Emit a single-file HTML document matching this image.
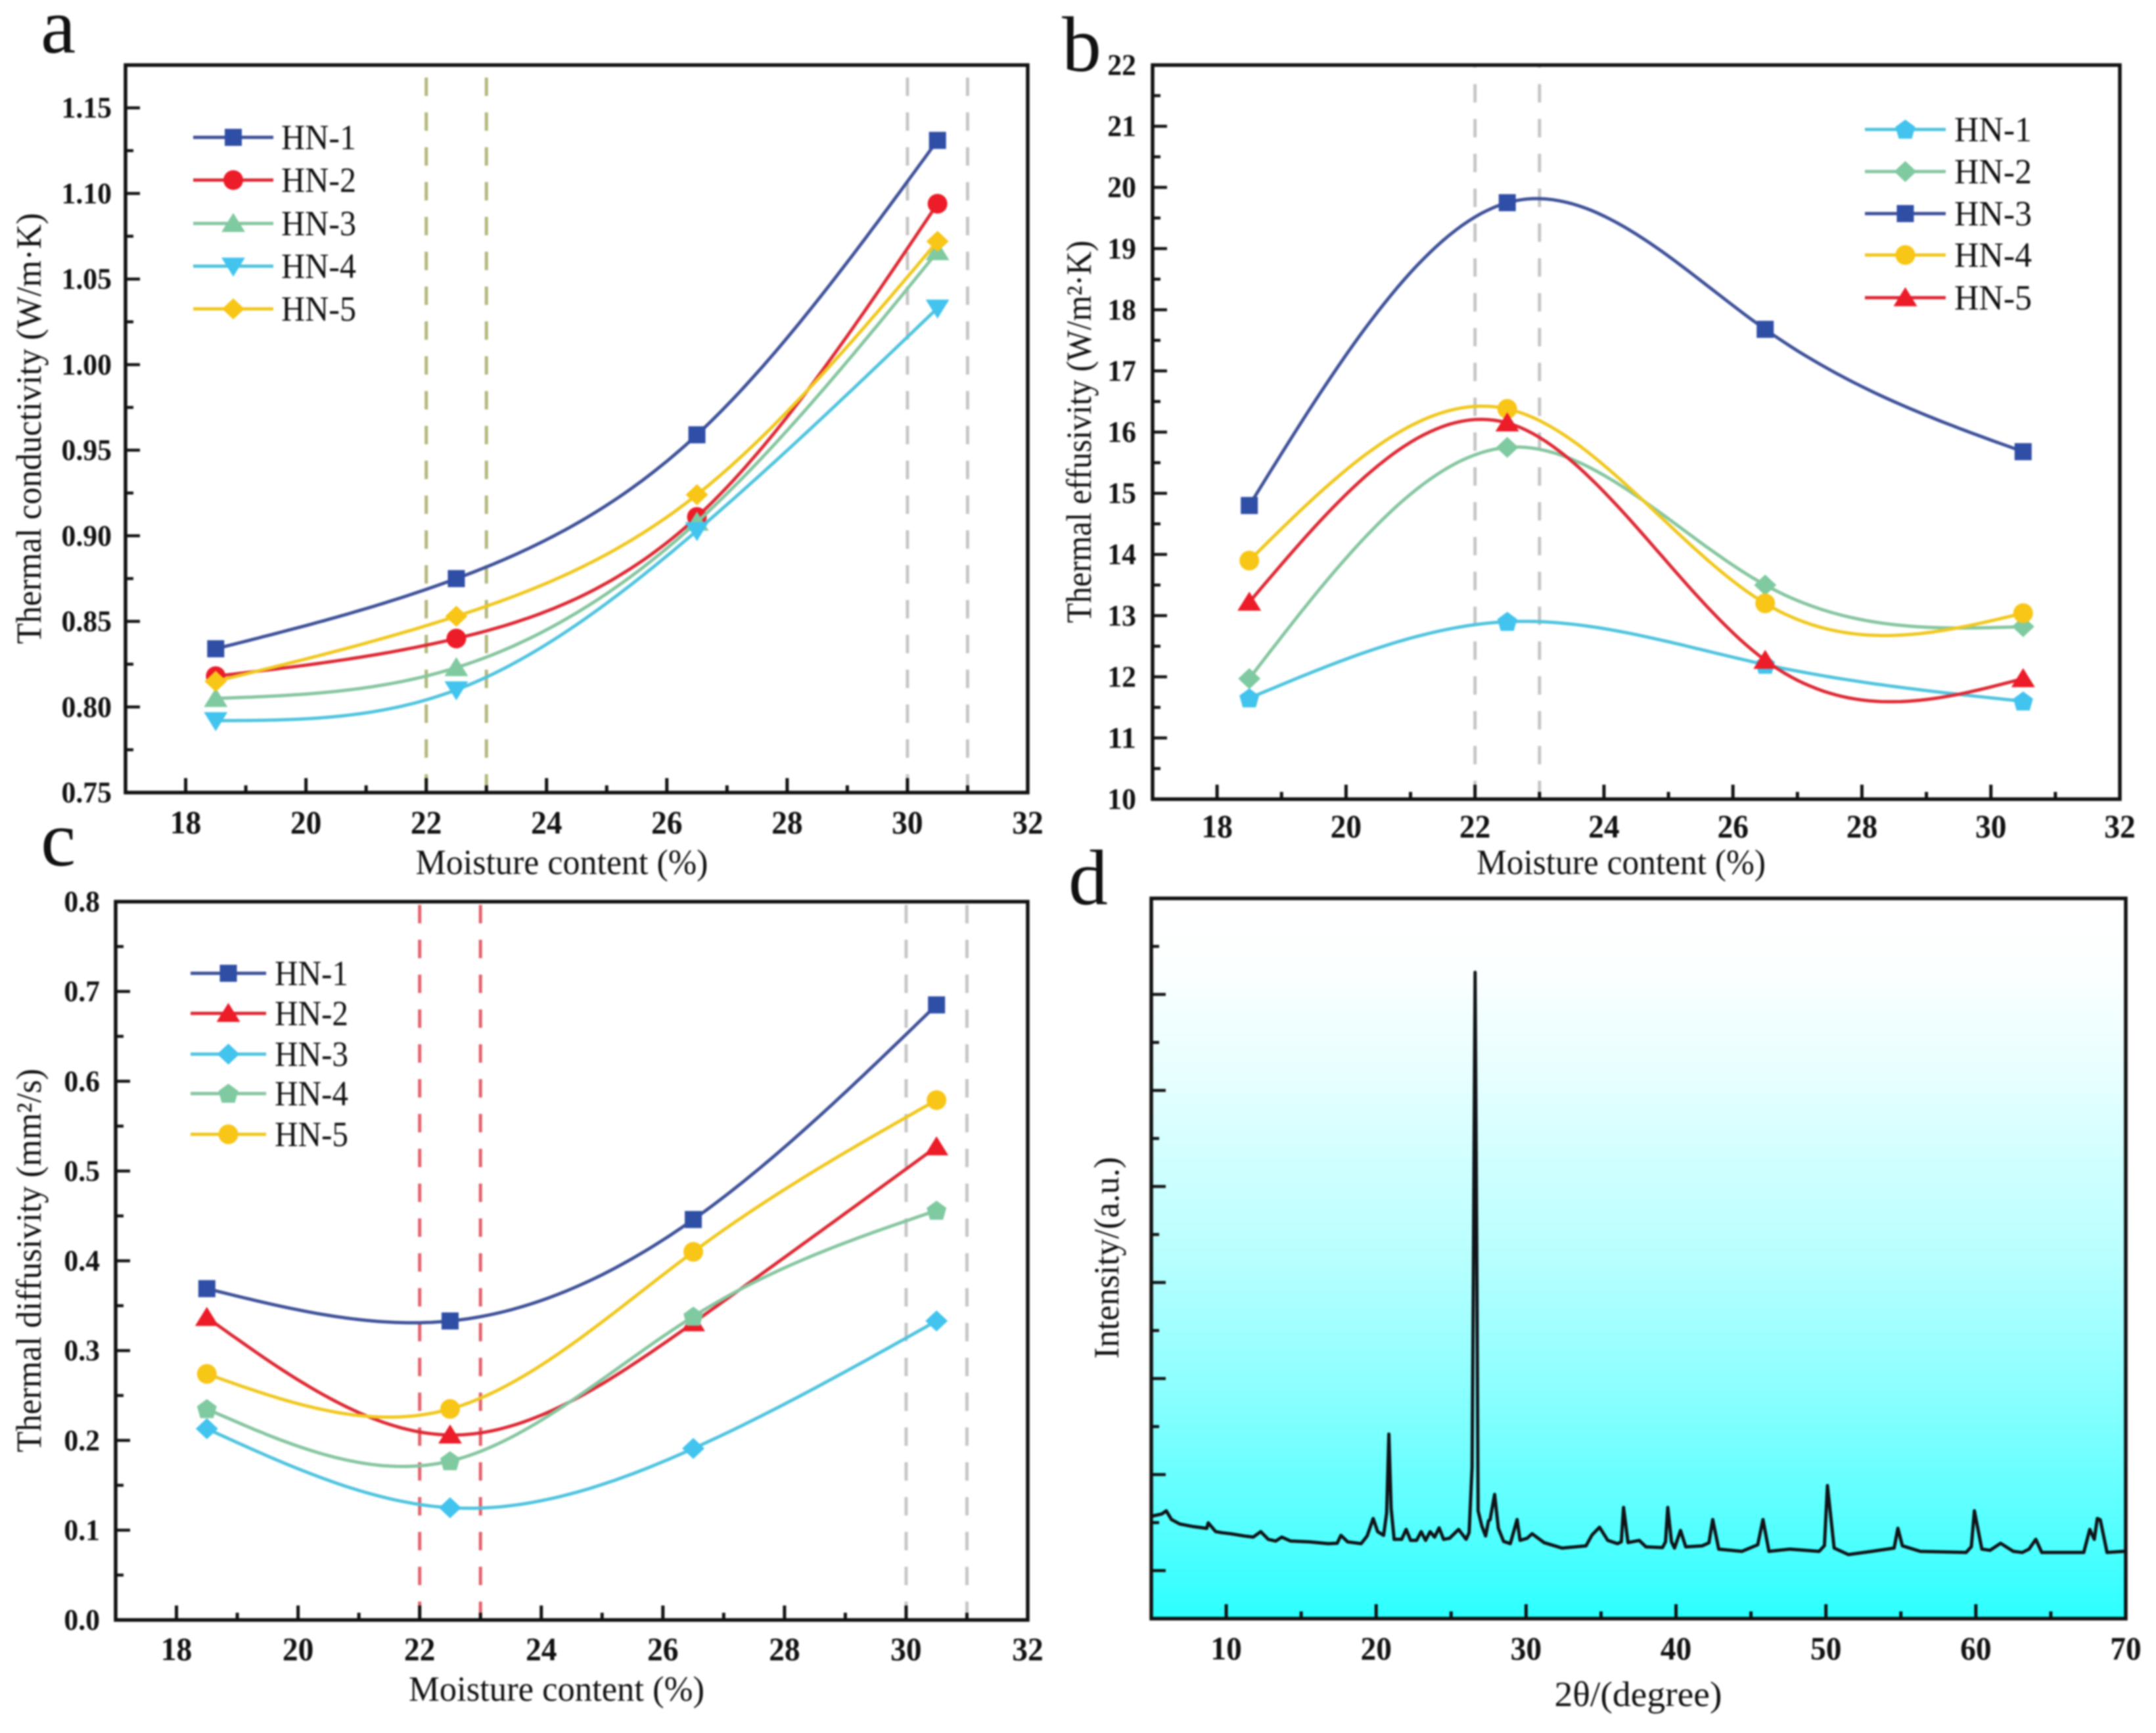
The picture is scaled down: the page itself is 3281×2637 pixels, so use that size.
<!DOCTYPE html>
<html lang="en">
<head>
<meta charset="utf-8">
<title>Thermal properties vs moisture content and XRD pattern</title>
<style>
html,body{margin:0;padding:0;background:#fff;}
svg{display:block;filter:blur(1.3px);}
text{font-family:"Liberation Serif",serif;fill:#111;}
</style>
</head>
<body>
<svg id="fig" xmlns="http://www.w3.org/2000/svg" width="3281" height="2637" viewBox="0 0 3281 2637">
  <defs>
    <linearGradient id="xrdBg" x1="0" y1="0" x2="0" y2="1">
      <stop offset="0" stop-color="#ffffff"/>
      <stop offset="0.1" stop-color="#fcffff"/>
      <stop offset="0.25" stop-color="#e6ffff"/>
      <stop offset="0.5" stop-color="#b8ffff"/>
      <stop offset="0.67" stop-color="#8fffff"/>
      <stop offset="0.85" stop-color="#5cffff"/>
      <stop offset="1" stop-color="#2dffff"/>
    </linearGradient>
    <clipPath id="clipD"><rect x="1752" y="1367" width="1483" height="1096"/></clipPath>
  </defs>
  <rect width="3281" height="2637" fill="#fff"/>

  <text x="62" y="80" font-size="120">a</text>
  <text x="1616" y="108" font-size="120">b</text>
  <text x="62" y="1317" font-size="120">c</text>
  <text x="1626" y="1376" font-size="120">d</text>

  <text x="855" y="1330" font-size="54" text-anchor="middle" textLength="445" lengthAdjust="spacingAndGlyphs">Moisture content (%)</text>
  <text x="2467" y="1330" font-size="54" text-anchor="middle" textLength="440" lengthAdjust="spacingAndGlyphs">Moisture content (%)</text>
  <text x="847" y="2588" font-size="54" text-anchor="middle" textLength="450" lengthAdjust="spacingAndGlyphs">Moisture content (%)</text>
  <text x="2493" y="2596" font-size="54" text-anchor="middle" textLength="255" lengthAdjust="spacingAndGlyphs">2θ/(degree)</text>

  <text transform="translate(62,652) rotate(-90)" font-size="54" text-anchor="middle" textLength="656" lengthAdjust="spacingAndGlyphs">Thermal conductivity (W/m·K)</text>
  <text transform="translate(1660,657) rotate(-90)" font-size="54" text-anchor="middle" textLength="582" lengthAdjust="spacingAndGlyphs">Thermal effusivity (W/m²·K)</text>
  <text transform="translate(62,1918) rotate(-90)" font-size="54" text-anchor="middle" textLength="584" lengthAdjust="spacingAndGlyphs">Thermal diffusivity (mm²/s)</text>
  <text transform="translate(1702,1914) rotate(-90)" font-size="54" text-anchor="middle" textLength="307" lengthAdjust="spacingAndGlyphs">Intensity/(a.u.)</text>
</svg>

<script>
/* ---------- shared data ---------- */
const moistureLevels = [18.5, 22.5, 26.5, 30.5];
const moistureTicks = [18, 20, 22, 24, 26, 28, 30, 32];
const moistureTickLabels = ['18', '20', '22', '24', '26', '28', '30', '32'];
const moistureMinorTicks = [19, 21, 23, 25, 27, 29, 31];

/* ---------- panel a: thermal conductivity ---------- */
const condHN1 = [0.834, 0.875, 0.959, 1.131];
const condHN2 = [0.818, 0.840, 0.911, 1.094];
const condHN3 = [0.805, 0.823, 0.908, 1.066];
const condHN4 = [0.792, 0.810, 0.903, 1.033];
const condHN5 = [0.815, 0.853, 0.924, 1.072];
const condTicks = [0.75, 0.80, 0.85, 0.90, 0.95, 1.00, 1.05, 1.10, 1.15];
const condTickLabels = ['0.75', '0.80', '0.85', '0.90', '0.95', '1.00', '1.05', '1.10', '1.15'];
const condMinorTicks = [0.775, 0.825, 0.875, 0.925, 0.975, 1.025, 1.075, 1.125];

/* ---------- panel b: thermal effusivity ---------- */
const effuHN1 = [11.65, 12.90, 12.20, 11.60];
const effuHN2 = [11.97, 15.75, 13.50, 12.82];
const effuHN3 = [14.80, 19.75, 17.68, 15.68];
const effuHN4 = [13.90, 16.38, 13.20, 13.04];
const effuHN5 = [13.22, 16.15, 12.27, 11.97];
const effuTicks = [10, 11, 12, 13, 14, 15, 16, 17, 18, 19, 20, 21, 22];
const effuTickLabels = ['10', '11', '12', '13', '14', '15', '16', '17', '18', '19', '20', '21', '22'];
const effuMinorTicks = [10.5, 11.5, 12.5, 13.5, 14.5, 15.5, 16.5, 17.5, 18.5, 19.5, 20.5, 21.5];

/* ---------- panel c: thermal diffusivity ---------- */
const diffHN1 = [0.369, 0.333, 0.446, 0.685];
const diffHN2 = [0.337, 0.206, 0.331, 0.527];
const diffHN3 = [0.213, 0.125, 0.191, 0.333];
const diffHN4 = [0.235, 0.177, 0.338, 0.456];
const diffHN5 = [0.274, 0.235, 0.410, 0.579];
const diffTicks = [0, 0.1, 0.2, 0.3, 0.4, 0.5, 0.6, 0.7, 0.8];
const diffTickLabels = ['0.0', '0.1', '0.2', '0.3', '0.4', '0.5', '0.6', '0.7', '0.8'];
const diffMinorTicks = [0.05, 0.15, 0.25, 0.35, 0.45, 0.55, 0.65, 0.75];

/* ---------- panel d: XRD pattern ---------- */
const xrdAngles = [5, 5.35, 5.7, 6, 6.35, 6.9, 7.8, 8.7, 8.8, 9.3, 9.7, 10.3, 11.2, 11.8, 12.3, 12.8, 13.3, 13.7, 14.3, 15.6, 16.8, 17.4, 17.65, 18.1, 19, 19.4, 19.8, 20.1, 20.5, 20.7, 20.85, 21, 21.2, 21.7, 22, 22.3, 22.7, 23, 23.3, 23.6, 23.9, 24.2, 24.5, 24.9, 25.5, 26, 26.2, 26.4, 26.48, 26.6, 26.72, 26.8, 27.05, 27.3, 27.5, 27.6, 27.9, 28.15, 28.5, 28.95, 29.4, 29.6, 30.07, 30.4, 30.7, 31.2, 32.4, 34, 34.4, 34.9, 35.45, 36.1, 36.35, 36.5, 36.8, 37.55, 38, 39.1, 39.3, 39.45, 39.7, 39.9, 40.3, 40.65, 41.75, 42.2, 42.45, 42.85, 44.4, 45.45, 45.8, 46.2, 47.6, 49.55, 49.9, 50.1, 50.55, 51.5, 53.05, 54.55, 54.8, 55.1, 56.3, 59.35, 59.7, 59.9, 60.4, 60.95, 61.65, 62.5, 63.1, 63.55, 64, 64.4, 67.2, 67.6, 67.9, 68.1, 68.3, 68.75, 69.85, 70];
const xrdIntensity = [566, 578, 590, 623, 532, 486, 459, 440, 498, 406, 395, 384, 361, 349, 406, 326, 308, 349, 308, 299, 281, 285, 368, 299, 281, 361, 543, 406, 368, 600, 1422, 650, 326, 326, 429, 315, 315, 406, 315, 406, 349, 445, 326, 337, 429, 326, 395, 1080, 3000, 6230, 3000, 623, 463, 361, 520, 530, 794, 440, 304, 281, 532, 315, 337, 384, 349, 292, 235, 258, 372, 452, 315, 281, 300, 658, 292, 315, 247, 240, 300, 658, 300, 235, 418, 247, 258, 290, 532, 224, 201, 269, 532, 201, 224, 201, 260, 886, 235, 167, 201, 235, 441, 258, 201, 189, 250, 623, 224, 212, 285, 201, 189, 224, 326, 189, 189, 429, 326, 543, 530, 189, 201, 201];
const xrdAngleTicks = [10, 20, 30, 40, 50, 60, 70];
const xrdAngleLabels = ['10', '20', '30', '40', '50', '60', '70'];
const xrdAngleMinorTicks = [15, 25, 35, 45, 55, 65];
const xrdIntensityTicks = [0, 1000, 2000, 3000, 4000, 5000, 6000];
const xrdIntensityMinorTicks = [500, 1500, 2500, 3500, 4500, 5500, 6500];

/* ---------- colours ---------- */
const BLUE = {line:'#3f5299', fill:'#2f4ea6'};
const RED = {line:'#dd2a35', fill:'#ec1c28'};
const GREEN = {line:'#86c6a0', fill:'#7fcaa0'};
const CYAN = {line:'#50c4de', fill:'#42c4ee'};
const YELLOW = {line:'#f0c820', fill:'#f8c617'};
const NS = 'http://www.w3.org/2000/svg';
const svg = document.getElementById('fig');

function make(tag, attrs, parent){
  const e = document.createElementNS(NS, tag);
  for (const k in attrs) e.setAttribute(k, attrs[k]);
  (parent || svg).appendChild(e);
  return e;
}
function scale(d0, d1, r0, r1){ return v => r0 + (v - d0) * (r1 - r0) / (d1 - d0); }
function labelWidth(s, size){
  let w = 0;
  for (const ch of s) w += (ch === '.' ? 0.25 : 0.5);
  return w * size * 0.95;
}

/* natural cubic spline through the data */
function splinePath(xs, ys, sx, sy){
  const n = xs.length, h = [], a = [], l = [1], mu = [0], z = [0], c = new Array(n).fill(0), b = [], d = [];
  for (let i = 0; i < n - 1; i++) h[i] = xs[i+1] - xs[i];
  for (let i = 1; i < n - 1; i++) a[i] = 3/h[i]*(ys[i+1]-ys[i]) - 3/h[i-1]*(ys[i]-ys[i-1]);
  for (let i = 1; i < n - 1; i++){
    l[i] = 2*(xs[i+1]-xs[i-1]) - h[i-1]*mu[i-1];
    mu[i] = h[i]/l[i];
    z[i] = (a[i]-h[i-1]*z[i-1])/l[i];
  }
  for (let j = n - 2; j >= 0; j--){
    c[j] = (j === 0 ? 0 : z[j]) - (j === 0 ? 0 : mu[j])*c[j+1];
    b[j] = (ys[j+1]-ys[j])/h[j] - h[j]*(c[j+1]+2*c[j])/3;
    d[j] = (c[j+1]-c[j])/(3*h[j]);
  }
  let p = 'M' + sx(xs[0]).toFixed(1) + ' ' + sy(ys[0]).toFixed(1);
  for (let i = 0; i < n - 1; i++){
    for (let s = 1; s <= 40; s++){
      const t = h[i]*s/40;
      const v = ys[i] + b[i]*t + c[i]*t*t + d[i]*t*t*t;
      p += 'L' + sx(xs[i]+t).toFixed(1) + ' ' + sy(v).toFixed(1);
    }
  }
  return p;
}

function markerShape(shape, x, y, fill, parent){
  const r = 14;
  let e;
  if (shape === 'square'){
    e = make('rect', {x:x-r+1, y:y-r+1, width:2*r-2, height:2*r-2, fill:fill}, parent);
  } else if (shape === 'circle'){
    e = make('circle', {cx:x, cy:y, r:r+1, fill:fill}, parent);
  } else {
    let pts = [];
    if (shape === 'up') pts = [[0,-r-2],[r+4,r-1],[-r-4,r-1]];
    if (shape === 'down') pts = [[-r-4,-r+1],[r+4,-r+1],[0,r+2]];
    if (shape === 'diamond') pts = [[0,-r-2],[r+3,0],[0,r+2],[-r-3,0]];
    if (shape === 'pentagon') pts = [[0,-r-1],[r+1,-4],[r-4,r],[-r+4,r],[-r-1,-4]];
    e = make('polygon', {points:pts.map(q => (x+q[0]) + ',' + (y+q[1])).join(' '), fill:fill}, parent);
  }
  return e;
}

function drawAxes(p){
  const g = make('g', {});
  
  
  const sx = p.sx, sy = p.sy;
  (p.xMajor).forEach((v, i) => {
    const t = make('line', {x1:sx(v), x2:sx(v), y1:p.bottom, y2:p.bottom-22, stroke:'#111', 'stroke-width':5}, g);
    
    
    const lab = make('text', {x:sx(v), y:p.xLabelY, 'font-size':50, 'font-weight':'bold', 'text-anchor':'middle', textLength:labelWidth(p.xLabels[i], 50), lengthAdjust:'spacingAndGlyphs'}, g);
    lab.textContent = p.xLabels[i];
    
    
  });
  (p.xMinor).forEach(v => {
    const t = make('line', {x1:sx(v), x2:sx(v), y1:p.bottom, y2:p.bottom-11, stroke:'#111', 'stroke-width':5}, g);
    
    
  });
  (p.yMajor).forEach((v, i) => {
    const t = make('line', {x1:p.left, x2:p.left+22, y1:sy(v), y2:sy(v), stroke:'#111', 'stroke-width':4.5}, g);
    
    
    if (p.yLabels){
      const lab = make('text', {x:p.yLabelX, y:sy(v)+15, 'font-size':46, 'font-weight':'bold', 'text-anchor':'end', textLength:labelWidth(p.yLabels[i], 46), lengthAdjust:'spacingAndGlyphs'}, g);
      lab.textContent = p.yLabels[i];
      
      
    }
  });
  (p.yMinor).forEach(v => {
    const t = make('line', {x1:p.left, x2:p.left+12, y1:sy(v), y2:sy(v), stroke:'#111', 'stroke-width':4.5}, g);
    
    
  });
  const fr = make('rect', {x:p.left, y:p.top, width:p.right-p.left, height:p.bottom-p.top, fill:'none', stroke:'#111', 'stroke-width':5.5}, g);
  
  
}

function drawGuides(p, values, colour){
  values.forEach(v => {
    const d = make('line', {x1:p.sx(v), x2:p.sx(v), y1:p.bottom, y2:p.top, stroke:colour, 'stroke-width':5, 'stroke-dasharray':'28 25'});
    
    
  });
}

function drawSeries(p, series, legend){
  const names = ['HN-1', 'HN-2', 'HN-3', 'HN-4', 'HN-5'];
  series.forEach(s => {
    const g = make('g', {});
    
    
    const path = make('path', {d:splinePath(moistureLevels, s.values, p.sx, p.sy), fill:'none', stroke:s.colour.line, 'stroke-width':5}, g);
    
    
    s.values.forEach((v, i) => {
      const m = markerShape(s.shape, p.sx(moistureLevels[i]), p.sy(v), s.colour.fill, g);
      
      
    });
  });
  /* legend */
  const lg = make('g', {});
  
  
  series.forEach(s => {
    const y = legend.rows[s.idx];
    const ln = make('line', {x1:legend.x0, x2:legend.x1, y1:y, y2:y, stroke:s.colour.line, 'stroke-width':5}, lg);
    
    
    const m = markerShape(s.shape, (legend.x0+legend.x1)/2, y, s.colour.fill, lg);
    
    
    const t = make('text', {x:legend.tx, y:y+18, 'font-size':54, textLength:legend.tw, lengthAdjust:'spacingAndGlyphs'}, lg);
    t.textContent = names[s.idx];
    
    
  });
}

/* ---------- panel a ---------- */
const pa = {name:'panel-a', left:191, right:1564, top:99, bottom:1206,
  xMajor:moistureTicks, xLabels:moistureTickLabels, xMinor:moistureMinorTicks,
  yMajor:condTicks, yLabels:condTickLabels, yMinor:condMinorTicks, xLabelY:1268, yLabelX:170};
pa.sx = scale(17, 32, pa.left, pa.right);
pa.sy = scale(0.75, 1.175, pa.bottom, pa.top);
drawGuides(pa, [22, 23], '#b4b77c');
drawGuides(pa, [30, 31], '#c6c6c6');
drawSeries(pa, [
  {idx:0, values:condHN1, colour:BLUE, shape:'square'},
  {idx:1, values:condHN2, colour:RED, shape:'circle'},
  {idx:2, values:condHN3, colour:GREEN, shape:'up'},
  {idx:3, values:condHN4, colour:CYAN, shape:'down'},
  {idx:4, values:condHN5, colour:YELLOW, shape:'diamond'}
], {x0:294, x1:416, tx:428, tw:114, rows:[209, 274, 340, 405, 470]});
drawAxes(pa);

/* ---------- panel b ---------- */
const pb = {name:'panel-b', left:1754, right:3226, top:99, bottom:1216,
  xMajor:moistureTicks, xLabels:moistureTickLabels, xMinor:moistureMinorTicks,
  yMajor:effuTicks, yLabels:effuTickLabels, yMinor:effuMinorTicks, xLabelY:1274, yLabelX:1729};
pb.sx = scale(17, 32, pb.left, pb.right);
pb.sy = scale(10, 22, pb.bottom, pb.top);
drawGuides(pb, [22, 23], '#c6c6c6');
drawSeries(pb, [
  {idx:0, values:effuHN1, colour:CYAN, shape:'pentagon'},
  {idx:1, values:effuHN2, colour:GREEN, shape:'diamond'},
  {idx:2, values:effuHN3, colour:BLUE, shape:'square'},
  {idx:3, values:effuHN4, colour:YELLOW, shape:'circle'},
  {idx:4, values:effuHN5, colour:RED, shape:'up'}
], {x0:2838, x1:2961, tx:2974, tw:118, rows:[197, 261, 325, 388, 453]});
drawAxes(pb);

/* ---------- panel c ---------- */
const pc = {name:'panel-c', left:176, right:1564, top:1372, bottom:2465,
  xMajor:moistureTicks, xLabels:moistureTickLabels, xMinor:moistureMinorTicks,
  yMajor:diffTicks, yLabels:diffTickLabels, yMinor:diffMinorTicks, xLabelY:2526, yLabelX:152};
pc.sx = scale(17, 32, pc.left, pc.right);
pc.sy = scale(0, 0.8, pc.bottom, pc.top);
drawGuides(pc, [22, 23], '#e2616b');
drawGuides(pc, [30, 31], '#c6c6c6');
drawSeries(pc, [
  {idx:0, values:diffHN1, colour:BLUE, shape:'square'},
  {idx:1, values:diffHN2, colour:RED, shape:'up'},
  {idx:2, values:diffHN3, colour:CYAN, shape:'diamond'},
  {idx:3, values:diffHN4, colour:GREEN, shape:'pentagon'},
  {idx:4, values:diffHN5, colour:YELLOW, shape:'circle'}
], {x0:290, x1:405, tx:418, tw:112, rows:[1481, 1542, 1604, 1664, 1726]});
drawAxes(pc);

/* ---------- panel d ---------- */
const pd = {name:'panel-d', left:1752, right:3235, top:1367, bottom:2463,
  xMajor:xrdAngleTicks, xLabels:xrdAngleLabels, xMinor:xrdAngleMinorTicks,
  yMajor:xrdIntensityTicks, yLabels:null, yMinor:xrdIntensityMinorTicks, xLabelY:2525};
pd.sx = scale(5, 70, pd.left, pd.right);
pd.sy = scale(-500, 7000, pd.bottom, pd.top);
const bgRect = make('rect', {x:pd.left, y:pd.top, width:pd.right-pd.left, height:pd.bottom-pd.top, fill:'url(#xrdBg)'});


const xrdD = xrdAngles.map((a, i) => (i ? 'L' : 'M') + pd.sx(a).toFixed(1) + ' ' + pd.sy(xrdIntensity[i]).toFixed(1)).join('');
const xrdPath = make('path', {d:xrdD, fill:'none', stroke:'#101418', 'stroke-width':5, 'stroke-linejoin':'round', 'clip-path':'url(#clipD)'});


drawAxes(pd);
</script>
</body>
</html>
